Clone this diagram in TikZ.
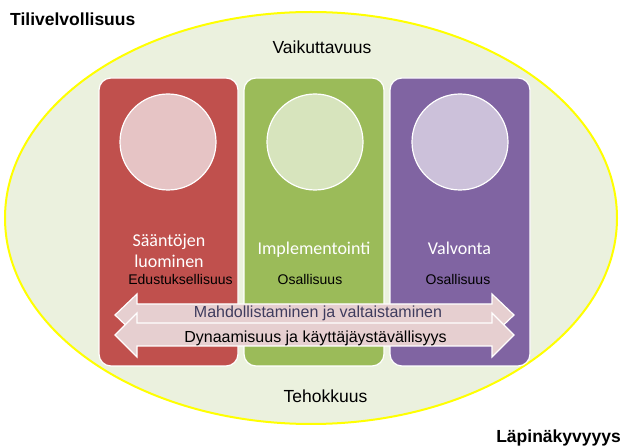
\documentclass[tikz,border=0pt]{standalone}
\usepackage{fontspec}
\setmainfont{Liberation Sans}
\newfontfamily\titlefont{Carlito}
\begin{document}
\begin{tikzpicture}[x=1pt,y=-1pt,
  outer/.style={fill=ovalfill,draw=ovalline,line width=2pt},
  column/.style={draw=white,line width=1.2pt,rounded corners=12pt},
  disc/.style={circle,draw=white,line width=1.2pt,minimum size=96pt,inner sep=0pt},
  coltitle/.style={text=white,font=\titlefont\fontsize{18}{21}\selectfont,align=center,inner sep=0pt},
  sublabel/.style={text=black,font=\fontsize{14}{16}\selectfont,inner sep=0pt,anchor=base},
  plainlabel/.style={text=black,font=\fontsize{17.5}{20}\selectfont,inner sep=0pt,anchor=base},
  corner/.style={text=black,font=\bfseries\fontsize{17.5}{20}\selectfont,inner sep=0pt},
  band/.style={fill=bandfill,draw=white,line width=1.2pt,line join=miter},
  bandtext/.style={font=\fontsize{16}{18}\selectfont,inner sep=0pt,anchor=base}]
\definecolor{ovalfill}{HTML}{EBF1DE}
\definecolor{ovalline}{HTML}{FFFF00}
\definecolor{redcol}{HTML}{C0504D}
\definecolor{greencol}{HTML}{9BBB59}
\definecolor{purplecol}{HTML}{8064A2}
\definecolor{reddisc}{HTML}{E6C4C5}
\definecolor{greendisc}{HTML}{D7E4BD}
\definecolor{purpledisc}{HTML}{CCC1DA}
\definecolor{bandfill}{HTML}{E6CFD0}
\definecolor{bandtextcol}{HTML}{3F3C5E}

\useasboundingbox (0,0) rectangle (624,446);

% outer oval
\path[outer] (311,218) ellipse [x radius=306, y radius=206];

% three columns
\path[column,fill=redcol] (99,78) rectangle (238,366);
\path[column,fill=greencol] (244,78) rectangle (384,366);
\path[column,fill=purplecol] (390,78) rectangle (530,366);

\node[disc,fill=reddisc] (d1) at (168,142) {};
\node[disc,fill=greendisc] (d2) at (315,142) {};
\node[disc,fill=purpledisc] (d3) at (460,142) {};

\node[coltitle] (t1) at (169,251) {Sääntöjen\\luominen};
\node[coltitle,anchor=base] (t2) at (314,255) {Implementointi};
\node[coltitle,anchor=base] (t3) at (459.5,255) {Valvonta};

\node[sublabel] (s1) at (180.5,285) {Edustuksellisuus};
\node[sublabel] (s2) at (310,285) {Osallisuus};
\node[sublabel] (s3) at (458,285) {Osallisuus};

% two double-headed bands
\path[band] (115,315) -- (137,294) -- (137,304) -- (492,304) -- (492,294) -- (514,315)
  -- (492,336) -- (492,326) -- (137,326) -- (137,336) -- cycle;
\path[band] (115,335) -- (137,313) -- (137,323) -- (492,323) -- (492,313) -- (514,335)
  -- (492,357) -- (492,346) -- (137,346) -- (137,357) -- cycle;
\node[bandtext,text=bandtextcol] (b1) at (318,318) {Mahdollistaminen ja valtaistaminen};
\node[bandtext,text=black] (b2) at (315.5,343) {Dynaamisuus ja käyttäjäystävällisyys};

\node[plainlabel] (top) at (322,54) {Vaikuttavuus};
\node[plainlabel] (bottom) at (325.5,402) {Tehokkuus};

\node[corner,anchor=base west] (acc) at (10,26) {Tilivelvollisuus};
\node[corner,anchor=base east] (tr) at (621,442) {Läpinäkyvyyys};
\end{tikzpicture}
\end{document}
